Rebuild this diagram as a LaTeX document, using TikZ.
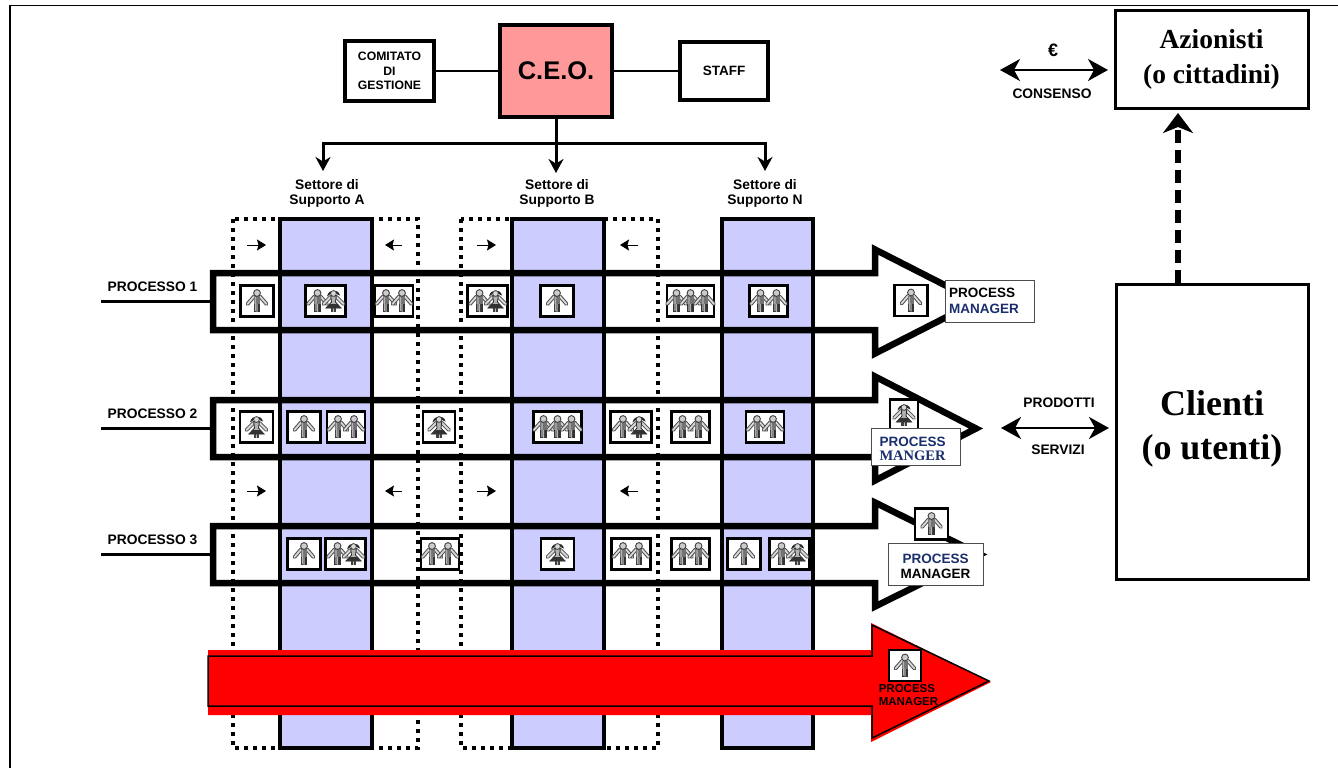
\documentclass[tikz,border=0pt]{standalone}
\usepackage{fontspec}
\setmainfont{Liberation Serif}
\setsansfont{Liberation Sans}
\usepackage{xcolor}
\usetikzlibrary{positioning,calc,arrows.meta}
\definecolor{colblue}{RGB}{204,204,255}
\definecolor{ceopink}{RGB}{255,153,153}
\definecolor{pmnavy}{RGB}{26,46,110}
\newcommand{\txt}[1]{\fontsize{#1}{#1}\selectfont}
\newcommand{\figman}{%
 \draw[line width=3.8,black!70,line cap=round,line join=round] (-9.5,3) -- (-3,-4.5) -- (3,-4.5) -- (9.5,3);
 \draw[line width=1.8,black!15,line cap=round,line join=round] (-9.5,3) -- (-3,-4.5) -- (3,-4.5) -- (9.5,3);
 \fill[black!55] (-3.2,-5) rectangle (3.2,3);
 \fill[black!80] (-3.2,3) rectangle (3.2,11);
 \fill[black!30] (-0.5,3) rectangle (0.5,11) (-2.2,-4) rectangle (-0.8,10);
 \filldraw[fill=black!20,draw=black!75,line width=0.9] (0,-8) circle (3.4);
}
\newcommand{\figwoman}{%
 \draw[line width=3.8,black!70,line cap=round,line join=round] (-10,3) -- (-3,-4) -- (3,-4) -- (10,3);
 \draw[line width=1.8,black!15,line cap=round,line join=round] (-10,3) -- (-3,-4) -- (3,-4) -- (10,3);
 \fill[black!75] (-2.8,7) rectangle (2.8,11);
 \fill[black!25] (-0.5,7) rectangle (0.5,11);
 \filldraw[fill=black!30,draw=black!85,line width=0.8] (-2.8,-5) -- (2.8,-5) -- (2,1) -- (7.5,7) -- (-7.5,7) -- (-2,1) -- cycle;
 \fill[black!80] (-7.5,7) -- (-3.5,3) -- (3.5,3) -- (7.5,7) -- cycle;
 \fill[black!85] (-6.5,-4.5) .. controls (-5,-12.5) and (5,-12.5) .. (6.5,-5.5) -- (3,-7) -- (-3,-7) -- cycle;
 \filldraw[fill=black!15,draw=black!75,line width=0.7] (0,-7.5) circle (2.8);
}
\newcommand{\iconbox}[5]{%
 \node[iconbox, minimum width=#4] (#1) at (#2,#3) {};
 \foreach \dx/\kind in {#5} {
  \begin{scope}[shift={(#2,#3)},xshift=\dx]
   \csname fig\kind\endcsname
  \end{scope}
 }
}
\begin{document}
\begin{tikzpicture}[x=1pt, y=-1pt, >={Stealth[length=9pt,width=11pt,inset=1.5pt]},
 main/.style = {rectangle, draw, fill=white, line width=4pt, inner sep=0pt, align=center, font=\sffamily\bfseries\txt{13.5}},
 bigbox/.style = {rectangle, draw, fill=white, line width=3pt, inner sep=0pt, align=center, font=\rmfamily\bfseries},
 iconbox/.style = {rectangle, draw, fill=white, line width=2.5pt, inner sep=0pt, minimum height=31pt},
 pmbox/.style = {rectangle, draw=black!70, fill=white, line width=1pt, inner sep=0pt, align=left, font=\sffamily\bfseries\txt{13.5}},
 lab/.style = {inner sep=0pt, align=center, font=\sffamily\bfseries\txt{13.8}},
 column/.style = {draw, fill=colblue, line width=4pt},
 dotbox/.style = {draw, line width=4pt, dash pattern=on 4pt off 5pt},
 bigarrow/.style = {<->, >={Stealth[length=20pt,width=22pt,inset=6pt]}, line width=2pt},
 process/.style = {draw, line width=6.5pt, line join=miter}]
\useasboundingbox (0,0) rectangle (1338,768);

\draw[line width=1.3pt] (10,768) -- (10,5.5) -- (1338,5.5);

\draw[column] (280,219) rectangle (372,748);
\draw[column] (512,219) rectangle (604,748);
\draw[column] (722,219) rectangle (813,748);
\draw[dotbox] (233,219) rectangle (418,748);
\draw[dotbox] (461,219) rectangle (658,748);

\foreach \c in {245,491} {
 \draw[->, line width=1pt] (247,\c) -- (266,\c);
 \draw[->, line width=1pt] (402,\c) -- (385,\c);
 \draw[->, line width=1pt] (477,\c) -- (496,\c);
 \draw[->, line width=1pt] (638,\c) -- (620,\c);
}

\foreach \n/\c/\t in {1/301.5/977,2/428.5/976,3/554.5/980} {
 \draw[process] (213,\c-28.5) -- (875,\c-28.5) -- (875,\c-52) -- (\t,\c) -- (875,\c+52) -- (875,\c+28.5) -- (213,\c+28.5) -- cycle;
 \coordinate (start\n) at (101,\c);
 \coordinate (proc\n) at (213,\c);
 \draw[line width=2.5pt] (start\n) -- (proc\n);
 \node[lab, above=10pt of $(start\n)!0.46!(proc\n)$] (lab\n) {PROCESSO \n};
}

\fill[red] (208,650) -- (871,650) -- (871,623) -- (991,682) -- (871,742) -- (871,715) -- (208,715) -- cycle;
\draw[line width=1.5pt, fill=red] (208,656) -- (872,656) -- (872,625) -- (989,681) -- (872,738) -- (872,706) -- (208,706) -- cycle;

\iconbox{a1}{257}{301}{33}{0/man}
\iconbox{a2}{325.5}{301}{40}{-8/man,8/woman}
\iconbox{a3}{394}{301}{38}{-8/man,8/man}
\iconbox{a4}{487.5}{301}{40}{-8/man,8/woman}
\iconbox{a5}{557}{301}{33}{0/man}
\iconbox{a6}{690.5}{301}{47}{-14/man,0/man,14/man}
\iconbox{a7}{768.5}{301}{38}{-8/man,8/man}
\iconbox{a8}{911}{300.5}{33}{0/man}

\iconbox{b1}{256.5}{427}{33}{0/woman}
\iconbox{b2}{304}{427}{33}{0/man}
\iconbox{b3}{346}{427}{38}{-8/man,8/man}
\iconbox{b4}{439}{427}{32}{0/woman}
\iconbox{b5}{557.5}{427}{48}{-14/man,0/man,14/man}
\iconbox{b6}{631}{427}{41}{-8/man,8/woman}
\iconbox{b7}{690.5}{427}{38}{-8/man,8/man}
\iconbox{b8}{765}{427}{38}{-8/man,8/man}
\iconbox{b9}{904}{415}{28}{0/woman}

\iconbox{c1}{304}{554}{33}{0/man}
\iconbox{c2}{345.5}{554}{40}{-8/man,8/woman}
\iconbox{c3}{440}{554}{38}{-8/man,8/man}
\iconbox{c4}{557.5}{554}{33}{0/woman}
\iconbox{c5}{631}{554}{39}{-8/man,8/man}
\iconbox{c6}{690.5}{554}{38}{-8/man,8/man}
\iconbox{c7}{744}{554}{33}{0/man}
\iconbox{c8}{789.5}{554}{40}{-8/man,8/woman}
\iconbox{c9}{931.5}{524}{33}{0/man}

\iconbox{d1}{905}{665.5}{32}{0/man}

\node[pmbox, minimum width=89pt, minimum height=42pt, text width=81pt] (pm1) at (989.5,301) {PROCESS\\[2pt]\textcolor{pmnavy}{MANAGER}};
\node[pmbox, minimum width=89pt, minimum height=37pt, text width=72pt, xshift=4pt, text=pmnavy] (pm2) at (911.5,446.5) {\rule{0pt}{14pt}PROCESS\\[0pt]{\rmfamily\txt{14.5}MANGER}};
\node[pmbox, minimum width=95pt, minimum height=42pt, align=center] (pm3) at (935.5,564) {\rule{0pt}{14pt}\textcolor{pmnavy}{PROCESS}\\[1.5pt]MANAGER};
\node[inner sep=0pt, align=left, font=\sffamily\bfseries\txt{11.5}] (pm4) at (908.5,695) {PROCESS\\[1pt]MANAGER};

\node[main, fill=ceopink, minimum width=112pt, minimum height=92pt, font=\sffamily\bfseries\txt{25.5}] (ceo) at (556,71) {C.E.O.};
\node[main, minimum width=89pt, minimum height=60pt, font=\sffamily\bfseries\txt{12.2}] (comitato) at (389.5,71) {COMITATO\\[2pt]DI\\[2pt]GESTIONE};
\node[main, minimum width=88pt, minimum height=58pt] (staff) at (724,71) {STAFF};
\draw[line width=2pt] (comitato) -- (ceo);
\draw[line width=2pt] (ceo) -- (staff);

\node[lab] (supa) at (327,193.5) {Settore di\\[2pt]Supporto A};
\node[lab] (supb) at (557,193.5) {Settore di\\[2pt]Supporto B};
\node[lab] (supn) at (765,193.5) {Settore di\\[2pt]Supporto N};
\coordinate (branch) at (556,143);
\draw[line width=3pt, -{Stealth[length=14pt,width=15pt]}] (ceo) -- (556,173);
\draw[line width=3pt, -{Stealth[length=14pt,width=15pt]}] (branch) -| (323,171);
\draw[line width=3pt, -{Stealth[length=14pt,width=15pt]}] (branch) -| (765,171);

\node[bigbox, minimum width=193pt, minimum height=97pt, font=\rmfamily\bfseries\txt{27.5}] (azionisti) at (1211.5,59.5) {Azionisti\\[8pt](o cittadini)};
\node[bigbox, minimum width=192pt, minimum height=295pt] (clienti) at (1212,431.5) {};
\node[inner sep=0pt, align=center, font=\rmfamily\bfseries\txt{36}] (clientitxt) at (1212,428.5) {Clienti\\[8pt](o utenti)};

\coordinate (eurol) at (1000,70);
\coordinate (euror) at (1108,70);
\draw[bigarrow] (eurol) -- (euror);
\node[lab, font=\sffamily\bfseries\txt{18}] (euro) at (1053,50) {€};
\node[lab] (consenso) at (1052,94) {CONSENSO};

\coordinate (prodl) at (1001,428);
\coordinate (prodr) at (1109,428);
\draw[bigarrow] (prodl) -- (prodr);
\node[lab] (prodotti) at (1059,403) {PRODOTTI};
\node[lab] (servizi) at (1058,450) {SERVIZI};

\coordinate (feedback) at (1178,113);
\draw[line width=6pt, dash pattern=on 13pt off 7pt, -{Stealth[length=20pt,width=30pt,inset=6pt]}] (feedback |- clienti.north) -- (feedback);
\end{tikzpicture}
\end{document}
